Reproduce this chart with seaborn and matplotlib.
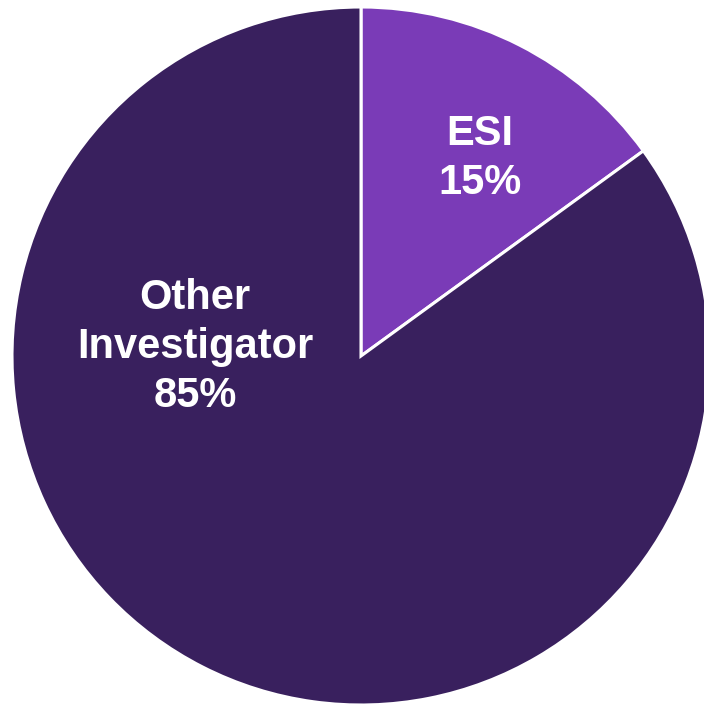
import matplotlib
matplotlib.use("Agg")
import matplotlib.pyplot as plt
import seaborn as sns

# Data
categories = ["ESI", "Other\nInvestigator"]
shares = [15, 85]
colors = ["#7A3BB7", "#39205E"]

sns.set_theme(style="white")
plt.rcParams['font.family'] = ['Liberation Sans', 'DejaVu Sans']

fig = plt.figure(figsize=(7.04, 7.07), dpi=100)
ax = fig.add_axes([0, 0, 1, 1])

wedges, _ = ax.pie(shares, colors=colors, startangle=90, counterclock=False,
                   wedgeprops=dict(edgecolor="white", linewidth=2.2))

# label positions (data units, radius 1 pie)
label_pos = [(0.341, 0.566), (-0.476, 0.026)]
for name, val, (x, y) in zip(categories, shares, label_pos):
    ax.text(x, y, f"{name}\n{val}%", ha="center", va="center", color="white",
            fontsize=30, fontweight="bold", linespacing=1.3)

# framing: center at (361, 356) px, radius 349 px
ax.set_xlim(-361 / 349, (704 - 361) / 349)
ax.set_ylim((356 - 707) / 349, 356 / 349)
ax.set_aspect("auto")
ax.axis("off")

fig.savefig("out.png", dpi=100)
